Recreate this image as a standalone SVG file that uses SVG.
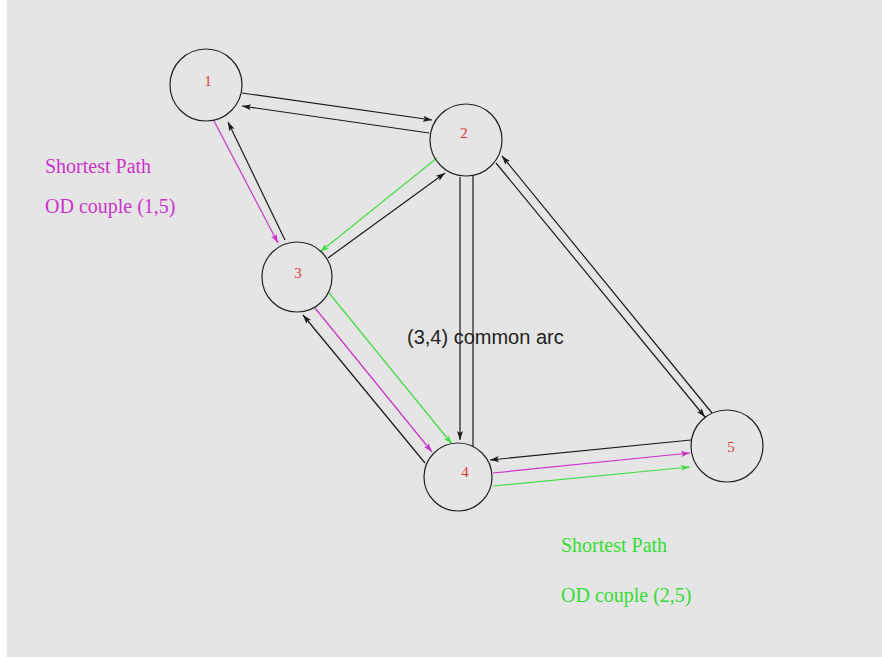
<svg xmlns="http://www.w3.org/2000/svg" width="882" height="657" viewBox="0 0 882 657">
  <style>
    .node circle { fill: none; stroke: #222; stroke-width: 1.2; }
    .node text { font-family: "Liberation Serif", "Times New Roman", serif; font-size: 15px; fill: #e03a3a; text-anchor: middle; }
    .arc { fill: none; stroke-width: 1.2; }
    .k { stroke: #1a1a1a; }
    .m { stroke: #cc33cc; }
    .g { stroke: #44dd44; }
    .note { font-family: "Liberation Serif", "Times New Roman", serif; font-size: 20px; }
    .label { font-family: "Liberation Sans", Arial, sans-serif; font-size: 20px; fill: #222; }
  </style>
  <defs>
    <marker id="ak" markerUnits="userSpaceOnUse" markerWidth="10" markerHeight="8" refX="9" refY="3.5" orient="auto">
      <path d="M0,0.5 L9,3.5 L0,6.5 L2,3.5 Z" fill="#1a1a1a"/>
    </marker>
    <marker id="am" markerUnits="userSpaceOnUse" markerWidth="10" markerHeight="8" refX="9" refY="3.5" orient="auto">
      <path d="M0,0.5 L9,3.5 L0,6.5 L2,3.5 Z" fill="#cc33cc"/>
    </marker>
    <marker id="ag" markerUnits="userSpaceOnUse" markerWidth="10" markerHeight="8" refX="9" refY="3.5" orient="auto">
      <path d="M0,0.5 L9,3.5 L0,6.5 L2,3.5 Z" fill="#44dd44"/>
    </marker>
  </defs>

  <!-- canvas -->
  <rect x="0" y="0" width="882" height="657" fill="#ffffff"/>
  <rect x="7" y="0" width="875" height="657" fill="#e5e5e5"/>

  <!-- arcs -->
  <g id="connectors">
    <line class="arc k" x1="242" y1="93" x2="432" y2="120" marker-end="url(#ak)"/>
    <line class="arc k" x1="429" y1="133" x2="242" y2="106" marker-end="url(#ak)"/>
    <line class="arc m" x1="214" y1="121" x2="278" y2="243" marker-end="url(#am)"/>
    <line class="arc k" x1="285" y1="240" x2="228" y2="122" marker-end="url(#ak)"/>
    <line class="arc g" x1="437" y1="158" x2="320" y2="252" marker-end="url(#ag)"/>
    <line class="arc k" x1="328" y1="258" x2="445" y2="173" marker-end="url(#ak)"/>
    <line class="arc k" x1="460" y1="177" x2="460" y2="440" marker-end="url(#ak)"/>
    <line class="arc k" x1="473" y1="447" x2="473" y2="176"/>
    <line class="arc k" x1="712" y1="413" x2="502" y2="156" marker-end="url(#ak)"/>
    <line class="arc k" x1="496" y1="163" x2="705" y2="417" marker-end="url(#ak)"/>
    <line class="arc k" x1="691" y1="440" x2="490" y2="460" marker-end="url(#ak)"/>
    <line class="arc m" x1="493" y1="473" x2="690" y2="453" marker-end="url(#am)"/>
    <line class="arc g" x1="493" y1="486" x2="690" y2="467" marker-end="url(#ag)"/>
    <line class="arc g" x1="329" y1="293" x2="452" y2="444" marker-end="url(#ag)"/>
    <line class="arc m" x1="315" y1="308" x2="432" y2="452" marker-end="url(#am)"/>
    <line class="arc k" x1="425" y1="463" x2="303" y2="315" marker-end="url(#ak)"/>
  </g>

  <!-- nodes -->
  <g id="node1" class="node"><circle cx="206" cy="85" r="36"/><text x="208" y="86">1</text></g>
  <g id="node2" class="node"><circle cx="466" cy="140" r="36"/><text x="464" y="138">2</text></g>
  <g id="node3" class="node"><circle cx="297" cy="277" r="35"/><text x="298" y="278">3</text></g>
  <g id="node4" class="node"><circle cx="458" cy="477" r="34"/><text x="465" y="477">4</text></g>
  <g id="node5" class="node"><circle cx="727" cy="446" r="36"/><text x="731" y="452">5</text></g>

  <!-- annotations -->
  <g id="legend-15" class="note" fill="#cc33cc">
    <text x="45" y="173">Shortest Path</text>
    <text x="45" y="213">OD couple (1,5)</text>
  </g>
  <text class="label" x="407" y="344">(3,4) common arc</text>
  <g id="legend-25" class="note" fill="#33dd33">
    <text x="561" y="552">Shortest Path</text>
    <text x="561" y="602">OD couple (2,5)</text>
  </g>
</svg>
